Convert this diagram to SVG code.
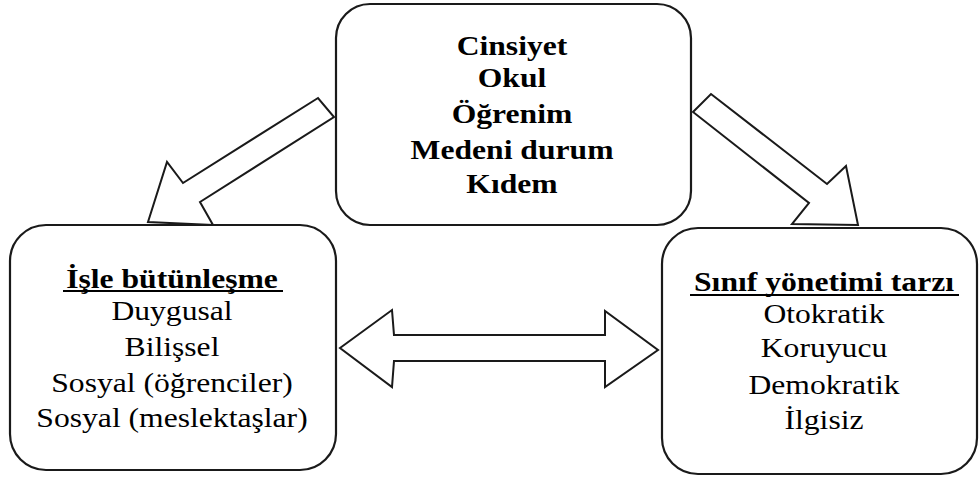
<svg xmlns="http://www.w3.org/2000/svg" width="979" height="478" viewBox="0 0 979 478">
<style>
.box{fill:#fff;stroke:#1a1a1a;stroke-width:2.2}
.arr{fill:#fff;stroke:#1a1a1a;stroke-width:2;stroke-linejoin:miter}
.ul{stroke:#000;stroke-width:2}
</style>
<rect width="979" height="478" fill="#fff"/>
<g id="connectors">
<polygon class="arr" points="318,98 183,183 167,162 148,222 213,225 200,202 334,117"/>
<polygon class="arr" points="693,112 711,94 827,184 846,166 858,225 792,224 809,203"/>
<polygon class="arr" points="340,348 392,310 394,335 605,335 605,311 658,350 605,387 605,361 394,361 392,387"/>
</g>
<g id="top">
<rect class="box" x="336" y="4" width="355" height="221" rx="34"/>
<g font-family="Liberation Serif" font-size="28" font-weight="bold" text-anchor="middle" transform="translate(512 0) scale(1.13 1)">
<text x="0" y="55">Cinsiyet</text>
<text x="0" y="87">Okul</text>
<text x="0" y="123">Öğrenim</text>
<text x="0" y="159">Medeni durum</text>
<text x="0" y="193">Kıdem</text>
</g>
</g>
<g id="left">
<rect class="box" x="10" y="225" width="326" height="245" rx="36"/>
<g font-family="Liberation Serif" font-size="28" text-anchor="middle" transform="translate(172 0) scale(1.13 1)">
<text x="0" y="288" font-weight="bold">İşle bütünleşme</text>
<text x="0" y="320">Duygusal</text>
<text x="0" y="356">Bilişsel</text>
<text x="0" y="392">Sosyal (öğrenciler)</text>
<text x="0" y="427">Sosyal (meslektaşlar)</text>
</g>
<line class="ul" x1="63" y1="291" x2="283" y2="291"/>
</g>
<g id="right">
<rect class="box" x="662" y="228" width="315" height="246" rx="36"/>
<g font-family="Liberation Serif" font-size="28" text-anchor="middle" transform="translate(824 0) scale(1.13 1)">
<text x="0" y="291" font-weight="bold">Sınıf yönetimi tarzı</text>
<text x="0" y="323">Otokratik</text>
<text x="0" y="357">Koruyucu</text>
<text x="0" y="394">Demokratik</text>
<text x="0" y="429">İlgisiz</text>
</g>
<line class="ul" x1="690" y1="295" x2="959" y2="295"/>
</g>
</svg>
